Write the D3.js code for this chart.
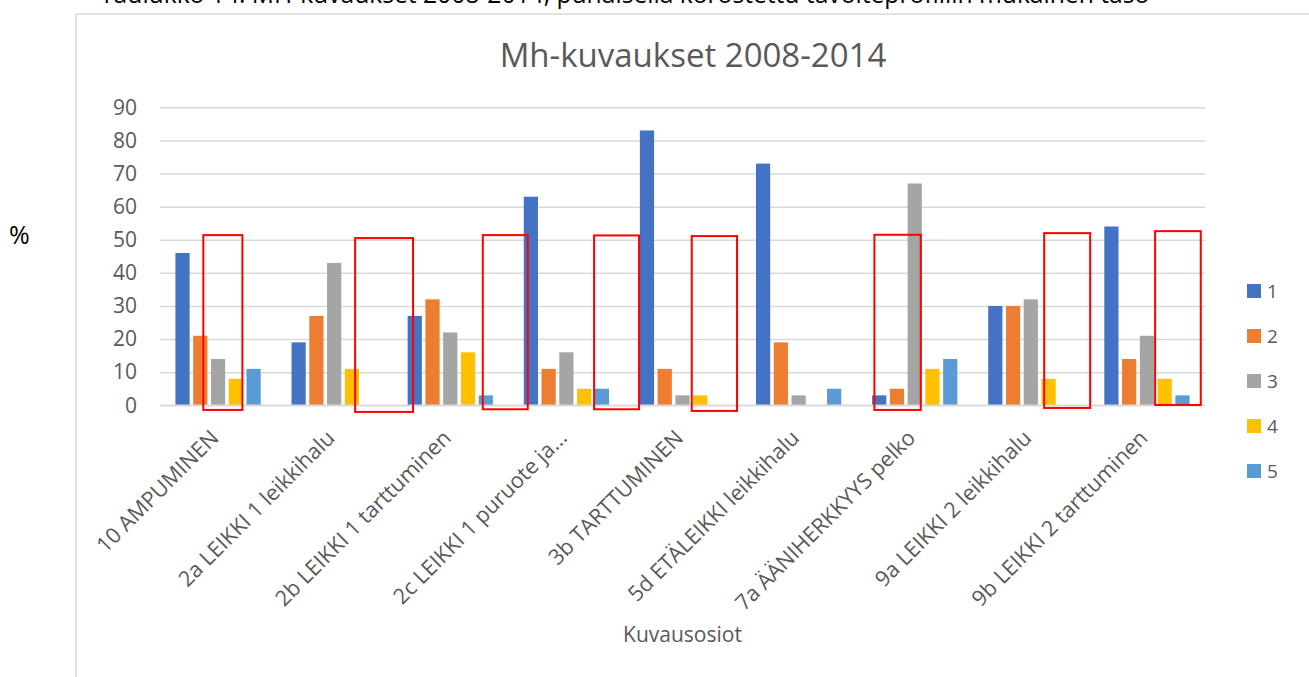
<!DOCTYPE html>
<html>
<head>
<meta charset="utf-8">
<script src="https://cdn.jsdelivr.net/npm/d3@7"></script>
<style>
  body { margin: 0; background: #fff; }
  svg { display: block; font-family: "Open Sans", sans-serif; }
</style>
</head>
<body>
<svg id="chart" width="1309" height="677"></svg>
<script>
// data
var categories = ["10 AMPUMINEN", "2a LEIKKI 1 leikkihalu", "2b LEIKKI 1 tarttuminen",
  "2c LEIKKI 1 puruote ja...", "3b TARTTUMINEN", "5d ETÄLEIKKI leikkihalu",
  "7a ÄÄNIHERKKYYS pelko", "9a LEIKKI 2 leikkihalu", "9b LEIKKI 2 tarttuminen"];
var seriesNames = ["1", "2", "3", "4", "5"];
var series1 = [46, 19, 27, 63, 83, 73, 3, 30, 54];
var series2 = [21, 27, 32, 11, 11, 19, 5, 30, 14];
var series3 = [14, 43, 22, 16, 3, 3, 67, 32, 21];
var series4 = [8, 11, 16, 5, 3, 0, 11, 8, 8];
var series5 = [11, 0, 3, 5, 0, 5, 14, 0, 3];
var yTicks = [0, 10, 20, 30, 40, 50, 60, 70, 80, 90];
var colors = ["#4472C4", "#ED7D31", "#A5A5A5", "#FFC000", "#5B9BD5"];

// red highlight boxes: category, slot range (in bar steps) and value range
var highlightCat = [0, 1, 2, 3, 4, 6, 7, 8];
var highlightFrom = [1.67, 3.68, 4.33, 4.06, 3.02, 0.23, 3.25, 2.96];
var highlightTo = [3.87, 6.94, 6.86, 6.59, 5.57, 2.84, 5.84, 5.53];
var highlightTop = [51.4, 50.5, 51.4, 51.3, 51.1, 51.5, 52.0, 52.6];
var highlightBottom = [-1.4, -2.0, -1.2, -1.2, -1.7, -1.4, -0.8, 0.1];

var caption = "Taulukko 14. MH-kuvaukset 2008-2014, punaisella korostettu tavoiteprofiilin mukainen taso";
var title = "Mh-kuvaukset 2008-2014";
var xTitle = "Kuvausosiot";

var allSeries = [series1, series2, series3, series4, series5];
var textColor = "#595959";

var svg = d3.select("#chart");

// document caption, cut off at the top
var cap = svg.append("text")
  .attr("x", 100).attr("y", 3)
  .style("font-size", "22px").style("fill", "#000")
  .text(caption);
var capLen = cap.node().getComputedTextLength();
cap.style("font-size", (22 * 1050 / capLen) + "px");

svg.append("text")
  .attr("x", 9).attr("y", 244)
  .style("font-size", "25px").style("fill", "#000")
  .text("%");

// chart area border (left and top)
svg.append("path")
  .attr("d", "M76,677V14H1309")
  .attr("fill", "none")
  .attr("stroke", "#d9d9d9")
  .attr("stroke-width", 1.5);

var plotLeft = 160, plotRight = 1205, plotTop = 107.3, plotBottom = 405.3;

var x0 = d3.scaleBand()
  .domain(d3.range(categories.length))
  .range([plotLeft, plotRight])
  .paddingInner(0.235)
  .paddingOuter(0.1175);

var x1 = d3.scaleBand()
  .domain(d3.range(seriesNames.length))
  .range([0, x0.bandwidth()])
  .paddingInner(0.2)
  .paddingOuter(0.1);

var y = d3.scaleLinear().domain([0, 90]).range([plotBottom, plotTop]);

// gridlines + y axis
var yAxis = d3.axisLeft(y).tickValues(yTicks).tickSize(-(plotRight - plotLeft)).tickPadding(23);
var gy = svg.append("g").attr("transform", "translate(" + plotLeft + ",0)").call(yAxis);
gy.select(".domain").remove();
gy.selectAll(".tick line").attr("stroke", "#d9d9d9").attr("stroke-width", 1.5);
gy.selectAll(".tick text")
  .style("font-size", "21px")
  .style("font-family", "'Open Sans', sans-serif")
  .attr("fill", textColor);

// bars
var groups = svg.append("g").selectAll("g")
  .data(allSeries)
  .enter().append("g")
  .attr("fill", function(d, i) { return colors[i]; });

groups.each(function(vals, si) {
  d3.select(this).selectAll("rect")
    .data(vals)
    .enter().append("rect")
    .attr("x", function(d, ci) { return x0(ci) + x1(si); })
    .attr("width", x1.bandwidth())
    .attr("y", function(d) { return y(d); })
    .attr("height", function(d) { return y(0) - y(d); });
});

// baseline
svg.append("line")
  .attr("x1", plotLeft).attr("x2", plotRight)
  .attr("y1", y(0)).attr("y2", y(0))
  .attr("stroke", "#d9d9d9").attr("stroke-width", 1.5);

// x labels
svg.append("g").selectAll("text")
  .data(categories)
  .enter().append("text")
  .attr("text-anchor", "end")
  .attr("transform", function(d, i) {
    var cx = x0(i) + x0.bandwidth() / 2 + 2;
    return "translate(" + cx + "," + (y(0) + 34) + ")rotate(-45)";
  })
  .style("font-size", "21.6px")
  .attr("fill", textColor)
  .text(function(d) { return d; });

// red highlight boxes
svg.append("g").selectAll("rect")
  .data(highlightCat)
  .enter().append("rect")
  .attr("x", function(c, i) { return x0(c) + highlightFrom[i] * x1.step(); })
  .attr("width", function(c, i) { return (highlightTo[i] - highlightFrom[i]) * x1.step(); })
  .attr("y", function(c, i) { return y(highlightTop[i]); })
  .attr("height", function(c, i) { return y(highlightBottom[i]) - y(highlightTop[i]); })
  .attr("fill", "none")
  .attr("stroke", "#ff0000")
  .attr("stroke-width", 2);

// titles
svg.append("text")
  .attr("x", 693).attr("y", 67)
  .attr("text-anchor", "middle")
  .style("font-size", "33px")
  .attr("fill", textColor)
  .text(title);

svg.append("text")
  .attr("x", (plotLeft + plotRight) / 2).attr("y", 642)
  .attr("text-anchor", "middle")
  .style("font-size", "21px")
  .attr("fill", textColor)
  .text(xTitle);

// legend
var legend = svg.append("g").selectAll("g")
  .data(seriesNames)
  .enter().append("g")
  .attr("transform", function(d, i) { return "translate(1247," + (291 + i * 45) + ")"; });

legend.append("rect")
  .attr("x", 0).attr("y", -7)
  .attr("width", 14).attr("height", 14)
  .attr("fill", function(d, i) { return colors[i]; });

legend.append("text")
  .attr("x", 20).attr("y", 7)
  .style("font-size", "19px")
  .attr("fill", textColor)
  .text(function(d) { return d; });
</script>
</body>
</html>
